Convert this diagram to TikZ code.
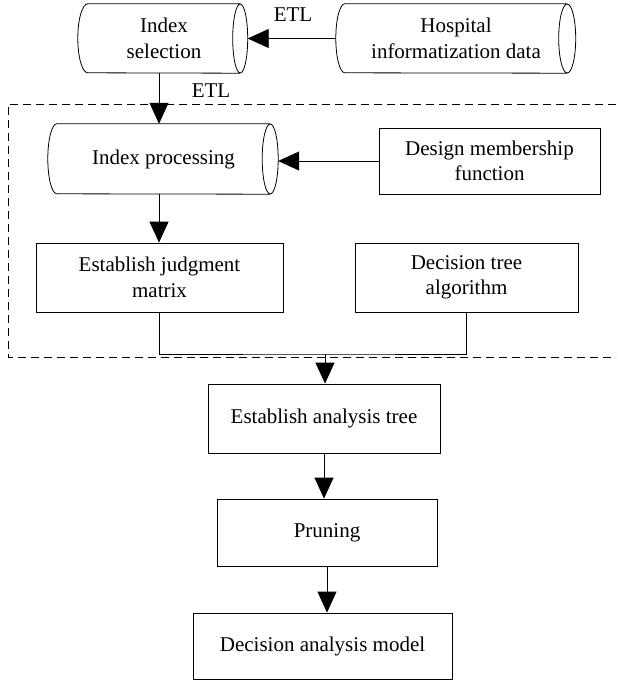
\documentclass[tikz,border=0pt]{standalone}
\usepackage{fontspec}
\setmainfont{Liberation Serif}
\usetikzlibrary{arrows.meta}
\begin{document}
\begin{tikzpicture}[x=1pt,y=1pt,
  every node/.style={font=\fontsize{21}{25.5}\selectfont, align=center, inner sep=0pt},
  box/.style={draw, line width=0.8pt},
  cyl/.style={},
  line/.style={line width=0.8pt},
  arr/.style={line width=0.8pt, -{Triangle[length=21pt,width=19pt]}},
  dashbox/.style={line width=0.8pt, dash pattern=on 8pt off 5pt}
]
\useasboundingbox (0,0) rectangle (616,-682);

% cylinders
\node[cyl, minimum width=152pt, minimum height=69pt] (sel) at (164,-38.5) {Index\\selection};
\node[cyl, minimum width=222pt, minimum height=69pt] (hosp) at (456,-38.5) {Hospital\\informatization data};
\node[cyl, minimum width=213pt, minimum height=70pt] (proc) at (163.5,-159) {Index processing};

\draw[line] (sel.north east) -- (sel.north west)
  arc[start angle=90,end angle=270,x radius=10pt,y radius=34.5pt] -- (sel.south east)
  (sel.east) ellipse[x radius=7.5pt,y radius=34.5pt];
\draw[line] (hosp.north east) -- (hosp.north west)
  arc[start angle=90,end angle=270,x radius=9pt,y radius=34.5pt] -- (hosp.south east)
  (hosp.east) ellipse[x radius=8.5pt,y radius=34.5pt];
\draw[line] (proc.north east) -- (proc.north west)
  arc[start angle=90,end angle=270,x radius=9pt,y radius=35pt] -- (proc.south east)
  (proc.east) ellipse[x radius=8pt,y radius=35pt];

% boxes
\node[box, minimum width=221pt, minimum height=66pt] (dm) at (489.5,-161) {Design membership\\function};
\node[box, minimum width=247pt, minimum height=69pt] (jm) at (159.5,-277.5) {Establish judgment\\matrix};
\node[box, minimum width=223pt, minimum height=69pt] (dt) at (466.5,-277.5) {Decision tree\\algorithm};
\node[box, minimum width=232pt, minimum height=69pt] (ana) at (324,-418.5) {Establish analysis tree};
\node[box, minimum width=220pt, minimum height=67pt] (prun) at (327,-532.5) {Pruning};
\node[box, minimum width=259pt, minimum height=66pt] (dmod) at (322.5,-646) {Decision analysis model};

% labels
\node (etlA) at (293,-15) {ETL};
\node (etlB) at (211,-91) {ETL};

% dashed region
\draw[dashbox] (616,-104) -- (8,-104) -- (8,-357) -- (616,-357);

% connectors
\draw[arr] ([xshift=-9pt]hosp.west) -- ([xshift=7.5pt]sel.east);
\draw[arr] ([xshift=-5pt]sel.south) -- ([xshift=-5pt]sel.south |- proc.north);
\draw[arr] (dm.west) -- ([xshift=8pt]proc.east |- dm.west);
\draw[arr] ([xshift=-4.5pt]proc.south) -- ([xshift=-4.5pt]proc.south |- jm.north);
\coordinate (junc) at (325,-354);
\draw[line] (jm.south) |- (junc) -| (dt.south);
\draw[arr] (junc) -- (junc |- ana.north);
\draw[arr] (ana.south) -- (ana.south |- prun.north);
\draw[arr] (prun.south) -- (prun.south |- dmod.north);
\end{tikzpicture}
\end{document}
